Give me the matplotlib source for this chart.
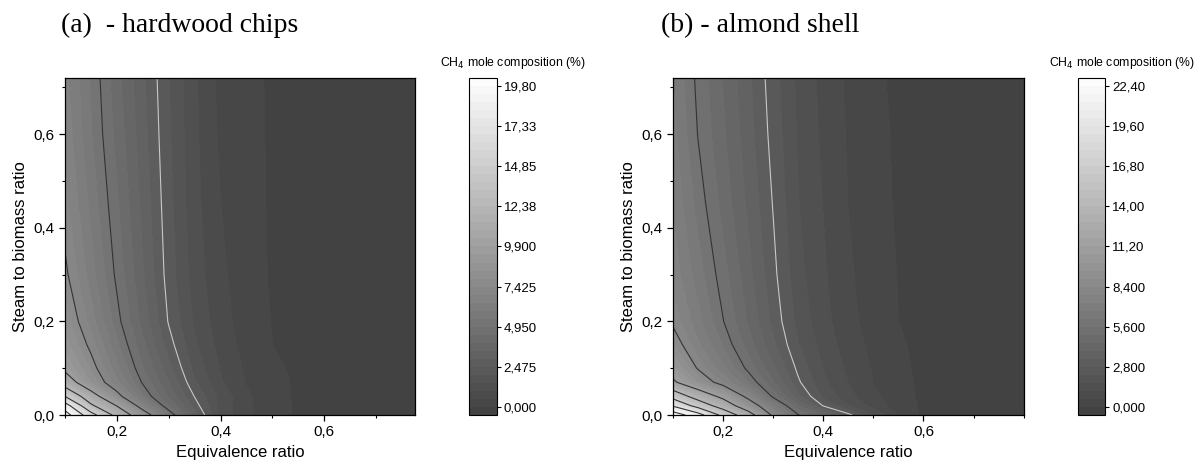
import numpy as np
import matplotlib
matplotlib.use("Agg")
from matplotlib import pyplot as plt
from matplotlib.colors import LinearSegmentedColormap
from matplotlib.ticker import MultipleLocator

plt.rcParams['font.family'] = ['Liberation Sans', 'DejaVu Sans']

# grid (equivalence ratio x steam/biomass ratio)
er_grid = [0.1, 0.15, 0.2, 0.25, 0.3, 0.35, 0.4, 0.45, 0.5, 0.55, 0.6, 0.7, 0.8]
sb_grid = [0.0, 0.02, 0.04, 0.07, 0.1, 0.15, 0.2, 0.3, 0.45, 0.6, 0.72]

# CH4 mole composition (%) - hardwood chips, one row per sb value
ch4_hardwood = [
    [21.0, 15.8, 11.69, 8.38, 5.50, 3.24, 1.30, 0.60, 0.15, -0.05, -0.1, -0.1, -0.1],
    [18.5, 12.79, 9.85, 6.68, 4.44, 2.75, 1.30, 0.60, 0.15, -0.05, -0.1, -0.1, -0.1],
    [14.85, 10.88, 7.91, 5.49, 3.88, 2.45, 1.30, 0.60, 0.12, -0.05, -0.1, -0.1, -0.1],
    [11.1, 8.41, 6.57, 4.87, 3.48, 2.05, 1.05, 0.45, 0.10, -0.05, -0.1, -0.1, -0.1],
    [9.5, 7.83, 6.10, 4.49, 3.13, 1.82, 0.95, 0.40, 0.05, -0.05, -0.1, -0.1, -0.1],
    [8.7, 7.20, 5.57, 4.10, 2.72, 1.57, 0.80, 0.30, 0.00, -0.05, -0.1, -0.1, -0.1],
    [8.2, 6.71, 5.17, 3.78, 2.43, 1.40, 0.70, 0.25, -0.02, -0.08, -0.1, -0.1, -0.1],
    [7.6, 6.19, 4.82, 3.52, 2.25, 1.25, 0.60, 0.20, -0.05, -0.1, -0.1, -0.1, -0.1],
    [7.1, 5.80, 4.54, 3.32, 2.15, 1.15, 0.50, 0.15, -0.05, -0.1, -0.1, -0.1, -0.1],
    [6.8, 5.50, 4.30, 3.17, 2.06, 1.10, 0.40, 0.12, -0.05, -0.1, -0.1, -0.1, -0.1],
    [6.6, 5.40, 4.14, 3.07, 2.00, 1.07, 0.35, 0.10, -0.05, -0.1, -0.1, -0.1, -0.1],
]

# CH4 mole composition (%) - almond shell
ch4_almond = [
    [24.0, 20.7, 16.02, 12.32, 8.02, 5.65, 4.32, 3.00, 1.70, 0.45, -0.1, -0.1, -0.1],
    [19.3, 15.75, 12.68, 9.62, 6.75, 4.58, 2.75, 1.70, 0.90, 0.30, -0.1, -0.1, -0.1],
    [15.8, 12.78, 10.60, 7.89, 5.41, 3.49, 2.10, 1.30, 0.70, 0.20, -0.1, -0.1, -0.1],
    [11.5, 9.45, 7.76, 6.15, 4.53, 2.90, 1.80, 1.10, 0.55, 0.15, -0.1, -0.1, -0.1],
    [10.2, 8.28, 6.84, 5.40, 4.00, 2.64, 1.65, 1.00, 0.50, 0.10, -0.1, -0.1, -0.1],
    [9.0, 7.38, 6.07, 4.77, 3.47, 2.27, 1.45, 0.85, 0.40, 0.05, -0.1, -0.1, -0.1],
    [8.2, 6.91, 5.62, 4.41, 3.19, 2.05, 1.30, 0.75, 0.30, 0.00, -0.1, -0.1, -0.1],
    [7.6, 6.42, 5.26, 4.11, 2.96, 1.85, 1.20, 0.65, 0.25, -0.02, -0.1, -0.1, -0.1],
    [7.2, 5.93, 4.83, 3.80, 2.76, 1.70, 1.10, 0.55, 0.15, -0.05, -0.1, -0.1, -0.1],
    [6.9, 5.56, 4.57, 3.59, 2.58, 1.60, 1.00, 0.50, 0.10, -0.05, -0.1, -0.1, -0.1],
    [6.7, 5.41, 4.44, 3.48, 2.47, 1.55, 0.95, 0.45, 0.05, -0.05, -0.1, -0.1, -0.1],
]

hardwood_ticks = [0.0, 2.475, 4.95, 7.425, 9.9, 12.38, 14.85, 17.33, 19.8]
hardwood_labels = ["0,000", "2,475", "4,950", "7,425", "9,900", "12,38", "14,85", "17,33", "19,80"]
almond_ticks = [0.0, 2.8, 5.6, 8.4, 11.2, 14.0, 16.8, 19.6, 22.4]
almond_labels = ["0,000", "2,800", "5,600", "8,400", "11,20", "14,00", "16,80", "19,60", "22,40"]

x_ticks = [0.2, 0.4, 0.6]
x_labels = ["0,2", "0,4", "0,6"]
y_ticks = [0.0, 0.2, 0.4, 0.6]
y_labels = ["0,0", "0,2", "0,4", "0,6"]

gray_map = LinearSegmentedColormap.from_list("origin_gray", ["#404040", "#ffffff"])


def draw_panel(fig, ax_rect, cb_rect, z, step, ticks, tick_labels, xmax, title, title_x, label_x):
    X, Y = np.meshgrid(er_grid, sb_grid)
    Z = np.array(z)
    ax = fig.add_axes(ax_rect)

    # filled bands: one extra level below 0 and above the top tick, like Origin
    fill_levels = np.arange(-1, 42) * step
    cf = ax.contourf(X, Y, np.clip(Z, fill_levels[0] + 1e-3, fill_levels[-1] - 1e-3),
                     levels=fill_levels, cmap=gray_map)
    line_levels = ticks[1:]
    ax.contour(X, Y, Z, levels=line_levels,
               colors=["#c8c8c8"] + ["#333333"] * (len(line_levels) - 1), linewidths=0.8)

    ax.set_xlim(0.1, xmax)
    ax.set_ylim(0.0, 0.72)
    ax.set_xticks(x_ticks)
    ax.set_xticklabels(x_labels)
    ax.set_yticks(y_ticks)
    ax.set_yticklabels(y_labels)
    ax.xaxis.set_minor_locator(MultipleLocator(0.1))
    ax.yaxis.set_minor_locator(MultipleLocator(0.1))
    ax.tick_params(which="major", direction="out", length=4, width=0.9, labelsize=11)
    ax.tick_params(which="minor", direction="out", length=2.5, width=0.8)
    for s in ax.spines.values():
        s.set_linewidth(0.9)
    ax.set_xlabel("Equivalence ratio", fontsize=12)
    ax.set_ylabel("Steam to biomass ratio", fontsize=12)

    cax = fig.add_axes(cb_rect)
    cb = fig.colorbar(cf, cax=cax)
    cb.set_ticks(ticks)
    cb.set_ticklabels(tick_labels)
    cb.ax.minorticks_off()
    cb.ax.tick_params(labelsize=9.5, length=3, width=0.8, direction="out", pad=2)
    cb.outline.set_linewidth(0.8)

    fig.text(label_x, 0.848, "CH$_4$ mole composition (%)", fontsize=8.8, ha="right", va="bottom")
    fig.text(title_x, 0.945, title, fontsize=20, family="Liberation Serif", ha="left", va="center")
    return ax


fig = plt.figure(figsize=(12, 4.69), dpi=100)
draw_panel(fig, [0.054, 0.115, 0.292, 0.719], [0.391, 0.115, 0.023, 0.719],
           ch4_hardwood, 0.495, hardwood_ticks, hardwood_labels, 0.775,
           "(a)  - hardwood chips", 0.051, 0.488)
draw_panel(fig, [0.561, 0.115, 0.292, 0.719], [0.898, 0.115, 0.023, 0.719],
           ch4_almond, 0.56, almond_ticks, almond_labels, 0.8,
           "(b) - almond shell", 0.551, 0.996)

fig.savefig("out.png", dpi=100)
